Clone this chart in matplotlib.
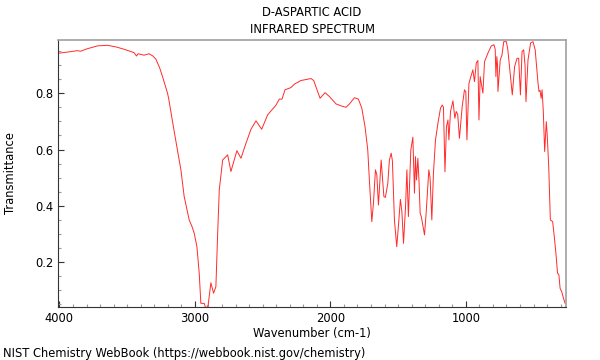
import matplotlib
matplotlib.use("Agg")
import matplotlib.pyplot as plt
from matplotlib.ticker import MultipleLocator

# IR spectrum of D-aspartic acid
wavenumber = [
    4005, 3940, 3867, 3843, 3800, 3719, 3645, 3580, 3523, 3449, 3431, 3419,
    3375, 3338, 3310, 3288, 3260, 3239, 3202, 3194, 3153, 3103, 3079, 3042,
    3020, 3005, 2985, 2968, 2956, 2931, 2919, 2902, 2882, 2862, 2845, 2832,
    2820, 2795, 2758, 2734, 2690, 2660, 2623, 2586, 2549, 2507, 2463, 2401,
    2377, 2357, 2335, 2291, 2266, 2217, 2143, 2123, 2076, 2039, 2007, 1958,
    1921, 1884, 1859, 1822, 1793, 1768, 1744, 1724, 1712, 1694, 1682, 1667,
    1657, 1645, 1625, 1605, 1594, 1576, 1564, 1551, 1542, 1527, 1510, 1498,
    1483, 1472, 1460, 1445, 1435, 1424, 1406, 1391, 1379, 1372, 1364, 1354,
    1346, 1337, 1328, 1322, 1305, 1293, 1273, 1264, 1251, 1239, 1224, 1206,
    1187, 1174, 1165, 1154, 1143, 1132, 1125, 1113, 1095, 1081, 1071, 1060,
    1047, 1027, 1010, 1000, 992, 977, 948, 936, 923, 911, 903, 894,
    874, 862, 837, 812, 792, 783, 778, 771, 766, 763, 746, 733,
    720, 701, 690, 657, 640, 622, 610, 597, 585, 573, 563, 556,
    541, 522, 504, 488, 467, 460, 452, 444, 437, 428, 418, 406,
    399, 388, 376, 359, 347, 335, 323, 313, 304, 292, 279, 267,
]
transmittance = [
    0.942, 0.946, 0.951, 0.949, 0.957, 0.968, 0.970, 0.964, 0.956, 0.944, 0.932, 0.940,
    0.935, 0.940, 0.932, 0.921, 0.890, 0.859, 0.800, 0.782, 0.665, 0.527, 0.433, 0.350,
    0.325, 0.303, 0.255, 0.161, 0.054, 0.054, 0.035, 0.048, 0.127, 0.090, 0.113, 0.300,
    0.457, 0.563, 0.581, 0.522, 0.596, 0.569, 0.622, 0.672, 0.702, 0.672, 0.723, 0.758,
    0.779, 0.779, 0.812, 0.820, 0.832, 0.845, 0.852, 0.845, 0.782, 0.802, 0.788, 0.762,
    0.755, 0.750, 0.762, 0.784, 0.779, 0.747, 0.681, 0.599, 0.492, 0.344, 0.409, 0.528,
    0.510, 0.403, 0.563, 0.433, 0.430, 0.480, 0.563, 0.587, 0.560, 0.350, 0.255, 0.326,
    0.423, 0.380, 0.267, 0.397, 0.528, 0.362, 0.599, 0.644, 0.445, 0.575, 0.492, 0.569,
    0.492, 0.374, 0.360, 0.344, 0.297, 0.374, 0.528, 0.500, 0.350, 0.516, 0.634, 0.693,
    0.747, 0.758, 0.750, 0.521, 0.681, 0.705, 0.634, 0.735, 0.773, 0.711, 0.735, 0.725,
    0.640, 0.752, 0.812, 0.805, 0.634, 0.835, 0.883, 0.841, 0.907, 0.916, 0.705, 0.859,
    0.800, 0.912, 0.942, 0.968, 0.972, 0.955, 0.859, 0.930, 0.900, 0.806, 0.918, 0.936,
    0.983, 0.983, 0.955, 0.794, 0.894, 0.924, 0.924, 0.794, 0.948, 0.954, 0.900, 0.770,
    0.918, 0.978, 0.983, 0.954, 0.835, 0.806, 0.810, 0.782, 0.812, 0.735, 0.593, 0.699,
    0.650, 0.539, 0.350, 0.344, 0.291, 0.232, 0.161, 0.155, 0.107, 0.095, 0.072, 0.054,
]

fig = plt.figure(figsize=(6, 3.6), dpi=100)
ax = fig.add_axes([0.097, 0.148, 0.846, 0.741])

ax.plot(wavenumber, transmittance, color="#ff2a2a", lw=0.7)

ax.set_xlim(4009, 262)
ax.set_ylim(0.042, 0.989)
ax.set_xticks([4000, 3000, 2000, 1000])
ax.xaxis.set_minor_locator(MultipleLocator(100))
ax.set_yticks([0.2, 0.4, 0.6, 0.8])
ax.yaxis.set_minor_locator(MultipleLocator(0.05))

ax.tick_params(which="both", direction="in", top=False, right=False,
               labelsize=8.3, color="#333333")
ax.tick_params(which="major", length=4.5, width=0.8)
ax.tick_params(which="minor", length=2.5, width=0.8, color="#999999")

for side in ["top", "right"]:
    ax.spines[side].set_color("#a0a0a0")
    ax.spines[side].set_linewidth(1.2)
for side in ["left", "bottom"]:
    ax.spines[side].set_color("#333333")
    ax.spines[side].set_linewidth(0.8)

ax.set_xlabel("Wavenumber (cm-1)", fontsize=8.3, labelpad=1.5)
ax.set_ylabel("Transmittance", fontsize=8.3, labelpad=13)

fig.text(0.52, 0.965, "D-ASPARTIC ACID", ha="center", va="center", fontsize=8.3)
fig.text(0.52, 0.917, "INFRARED SPECTRUM", ha="center", va="center", fontsize=8.3)
fig.text(0.005, 0.019, "NIST Chemistry WebBook (https://webbook.nist.gov/chemistry)",
         ha="left", va="center", fontsize=8.3)

fig.savefig("out.png", dpi=100)
